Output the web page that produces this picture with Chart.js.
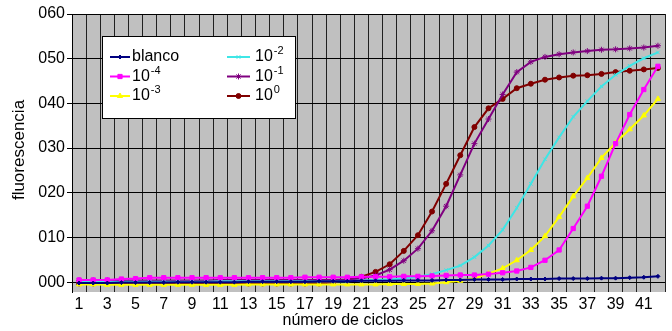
<!DOCTYPE html>
<html>
<head>
<meta charset="utf-8">
<script src="https://cdn.jsdelivr.net/npm/chart.js@4"></script>
<style>
  body { margin: 0; background: #fff; }
  #wrap { width: 672px; height: 331px; }
</style>
</head>
<body>
<div id="wrap"><canvas id="qpcr" width="672" height="331"></canvas></div>
<script>
// qPCR amplification curves, one series per dilution
const cycles = [1, 2, 3, 4, 5, 6, 7, 8, 9, 10, 11, 12, 13, 14, 15, 16, 17, 18, 19, 20, 21,
                22, 23, 24, 25, 26, 27, 28, 29, 30, 31, 32, 33, 34, 35, 36, 37, 38, 39, 40, 41, 42];
const seriesLabels = ['blanco', '10^-4', '10^-3', '10^-2', '10^-1', '10^0'];

const blanco = [-0.2, -0.2, -0.2, -0.1, -0.1, -0.1, -0.1, 0.0, 0.0, 0.0, 0.0, 0.0, 0.1, 0.1,
                0.1, 0.1, 0.1, 0.2, 0.2, 0.2, 0.3, 0.3, 0.3, 0.4, 0.4, 0.4, 0.5, 0.5,
                0.6, 0.6, 0.6, 0.7, 0.7, 0.7, 0.8, 0.8, 0.8, 0.9, 0.9, 1.0, 1.1, 1.3];
const dil4 = [0.5, 0.5, 0.5, 0.7, 0.8, 1.0, 1.0, 1.0, 1.0, 1.0, 1.0, 1.0, 1.0, 1.0,
              1.0, 1.0, 1.1, 1.1, 1.1, 1.1, 1.2, 1.2, 1.2, 1.3, 1.3, 1.4, 1.5, 1.6,
              1.6, 1.8, 2.1, 2.5, 3.3, 4.9, 7.2, 12.0, 17.0, 23.7, 31.0, 37.5, 43.1, 48.3];
const dil3 = [-0.5, -0.5, -0.6, -0.6, -0.6, -0.6, -0.6, -0.6, -0.6, -0.6, -0.6, -0.6, -0.5, -0.5,
              -0.5, -0.5, -0.5, -0.5, -0.5, -0.5, -0.5, -0.5, -0.4, -0.4, -0.4, -0.3, 0.0, 0.3,
              0.8, 1.9, 3.1, 4.9, 7.2, 10.3, 14.6, 19.2, 23.3, 27.8, 31.2, 34.2, 37.3, 41.0];
const dil2 = [0.1, 0.1, 0.1, 0.1, 0.1, 0.1, 0.1, 0.1, 0.1, 0.1, 0.2, 0.2, 0.2, 0.2,
              0.2, 0.2, 0.2, 0.2, 0.2, 0.2, 0.4, 0.5, 0.6, 0.8, 1.2, 1.8, 2.7, 3.7,
              5.6, 8.2, 11.7, 16.6, 22.0, 27.5, 32.4, 37.0, 40.5, 43.8, 46.4, 48.4, 50.1, 51.4];
const dil1 = [0.4, 0.4, 0.4, 0.4, 0.4, 0.4, 0.4, 0.4, 0.4, 0.4, 0.5, 0.5, 0.5, 0.5,
              0.5, 0.5, 0.5, 0.5, 0.5, 0.6, 0.8, 1.5, 2.8, 4.8, 7.5, 11.5, 17.0, 24.0,
              31.0, 36.5, 42.0, 47.0, 49.3, 50.4, 51.0, 51.4, 51.7, 52.0, 52.1, 52.3, 52.5, 52.9];
const dil0 = [-0.3, -0.3, -0.3, -0.3, -0.3, -0.3, -0.3, -0.3, -0.3, -0.3, -0.3, -0.3, -0.3, -0.3,
              -0.3, -0.3, -0.3, -0.3, 0.0, 0.6, 1.2, 2.3, 4.0, 7.0, 10.5, 15.8, 22.0, 28.4,
              34.7, 38.9, 41.0, 43.4, 44.4, 45.3, 45.8, 46.2, 46.3, 46.6, 47.0, 47.3, 47.6, 47.9];
const yTicks = [0, 10, 20, 30, 40, 50, 60];

const FONT = '"Liberation Sans", Arial, sans-serif';

const seriesData = [blanco, dil4, dil3, dil2, dil1, dil0];
const colors = ['#000080', '#ff00ff', '#ffff00', '#3ee6e6', '#800080', '#800000'];
const markers = ['rectRot', 'rect', 'triangle', 'crossRot', 'star', 'circle'];
const markerSizes = [2, 3, 3, 2.5, 3, 2.5];

// grey plotting area behind grid and lines
const plotBackground = {
  id: 'plotBackground',
  beforeDraw(chart) {
    const { ctx, chartArea: a } = chart;
    ctx.save();
    ctx.fillStyle = '#c0c0c0';
    ctx.fillRect(a.left, a.top, a.right - a.left, a.bottom - a.top);
    ctx.restore();
  }
};

// axis titles
const axisTitles = {
  id: 'axisTitles',
  afterDraw(chart) {
    const ctx = chart.ctx;
    ctx.save();
    ctx.fillStyle = '#000';
    ctx.textAlign = 'center';
    ctx.textBaseline = 'middle';
    ctx.font = '16px ' + FONT;
    ctx.fillText('número de ciclos', 343, 321);
    ctx.translate(19, 150);
    ctx.rotate(-Math.PI / 2);
    ctx.font = '17px ' + FONT;
    ctx.fillText('fluorescencia', 0, 0);
    ctx.restore();
  }
};

// boxed two-column legend with superscript exponents
const boxLegend = {
  id: 'boxLegend',
  afterDatasetsDraw(chart) {
    const ctx = chart.ctx;
    ctx.save();
    ctx.fillStyle = '#fff';
    ctx.fillRect(102.5, 36.5, 193, 82);
    ctx.strokeStyle = '#000';
    ctx.lineWidth = 1;
    ctx.strokeRect(102.5, 36.5, 193, 82);
    chart.data.datasets.forEach((ds, i) => {
      const col = Math.floor(i / 3), row = i % 3;
      const y = 57 + row * 19.5;
      const x1 = col ? 227 : 110, x2 = col ? 250 : 130, tx = col ? 255 : 132;
      ctx.strokeStyle = ds.borderColor;
      ctx.lineWidth = 2;
      ctx.beginPath();
      ctx.moveTo(x1, y);
      ctx.lineTo(x2, y);
      ctx.stroke();
      ctx.fillStyle = ds.pointBackgroundColor;
      ctx.strokeStyle = ds.pointBorderColor;
      ctx.lineWidth = 1;
      Chart.helpers.drawPoint(ctx, { pointStyle: ds.pointStyle, radius: ds.pointRadius, borderWidth: 1, rotation: 0 }, (x1 + x2) / 2, y);
      const [base, exp] = seriesLabels[i].split('^');
      ctx.fillStyle = '#000';
      ctx.textAlign = 'left';
      ctx.textBaseline = 'middle';
      ctx.font = '16px ' + FONT;
      ctx.fillText(base, tx, y);
      if (exp) {
        const w = ctx.measureText(base).width;
        ctx.font = '11px ' + FONT;
        ctx.fillText(exp, tx + w + 1, y - 6);
      }
    });
    ctx.restore();
  }
};

const datasets = seriesData.map((values, i) => ({
  label: seriesLabels[i],
  data: values,
  borderColor: colors[i],
  backgroundColor: colors[i],
  pointBackgroundColor: colors[i],
  pointBorderColor: colors[i],
  pointStyle: markers[i],
  pointRadius: markerSizes[i],
  pointBorderWidth: 1,
  borderWidth: 2,
  tension: 0,
  fill: false
}));

new Chart(document.getElementById('qpcr'), {
  type: 'line',
  data: { labels: cycles, datasets },
  options: {
    responsive: false,
    animation: false,
    layout: { padding: { top: 14, right: 7, left: 0, bottom: 0 } },
    plugins: { legend: { display: false }, tooltip: { enabled: false } },
    scales: {
      x: {
        offset: true,
        grid: { offset: true, color: '#202020', lineWidth: 1, drawTicks: false },
        border: { display: false },
        ticks: {
          autoSkip: false, maxRotation: 0, padding: 3, color: '#000',
          font: { family: FONT, size: 16 },
          callback: (v, i) => (i % 2 === 0 ? cycles[i] : '')
        },
        afterFit: s => { s.height = 39; }
      },
      y: {
        min: -2.2,
        max: 60,
        afterBuildTicks: s => { s.ticks = yTicks.map(v => ({ value: v })); },
        grid: { color: '#000', lineWidth: 1, tickLength: 5 },
        border: { display: true, color: '#000', width: 1 },
        ticks: {
          padding: 2, color: '#000',
          font: { family: FONT, size: 16 },
          callback: v => String(v).padStart(3, '0')
        },
        afterFit: s => { s.width = 72; }
      }
    }
  },
  plugins: [plotBackground, axisTitles, boxLegend]
});
</script>
</body>
</html>
